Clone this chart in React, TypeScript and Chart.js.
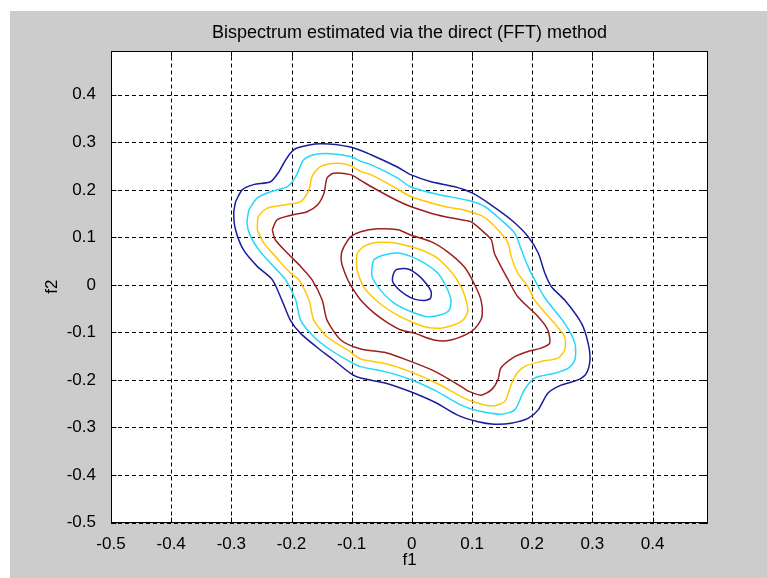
import React, { useEffect, useRef } from 'react';
import { Chart, registerables } from 'chart.js';

Chart.register(...registerables);

const titleText = 'Bispectrum estimated via the direct (FFT) method';
const xLabel = 'f1';
const yLabel = 'f2';

const axisMin = -0.5;
const axisMax = 0.4921875;

const xTickValues = [-0.5, -0.4, -0.3, -0.2, -0.1, 0, 0.1, 0.2, 0.3, 0.4];
const xTickLabels = ['-0.5', '-0.4', '-0.3', '-0.2', '-0.1', '0', '0.1', '0.2', '0.3', '0.4'];
const yTickValues = [-0.5, -0.4, -0.3, -0.2, -0.1, 0, 0.1, 0.2, 0.3, 0.4];
const yTickLabels = ['-0.5', '-0.4', '-0.3', '-0.2', '-0.1', '0', '0.1', '0.2', '0.3', '0.4'];

// contour levels (outer ring, lowest level first)
const outerBlue: [number, number][] = [
  [-0.293, 0.175], [-0.282, 0.2], [-0.263, 0.211], [-0.235, 0.217], [-0.222, 0.236], [-0.213, 0.256],
  [-0.202, 0.277], [-0.191, 0.288], [-0.152, 0.297], [-0.102, 0.29], [-0.068, 0.274], [-0.024, 0.248],
  [-0.002, 0.232], [0.032, 0.217], [0.07, 0.207], [0.101, 0.193], [0.132, 0.168], [0.165, 0.137],
  [0.193, 0.102], [0.21, 0.067], [0.221, 0.025], [0.232, -0.004], [0.254, -0.032], [0.282, -0.081],
  [0.293, -0.123], [0.296, -0.158], [0.29, -0.186], [0.276, -0.2], [0.248, -0.211], [0.226, -0.228],
  [0.21, -0.263], [0.193, -0.281], [0.165, -0.291], [0.137, -0.293], [0.11, -0.288], [0.076, -0.274],
  [0.04, -0.248], [-0.002, -0.225], [-0.043, -0.207], [-0.085, -0.196], [-0.102, -0.186], [-0.13, -0.158],
  [-0.152, -0.137], [-0.185, -0.102], [-0.202, -0.074], [-0.216, -0.032], [-0.232, 0.011], [-0.257, 0.039],
  [-0.28, 0.074], [-0.293, 0.116], [-0.296, 0.151],
];

const outerCyan: [number, number][] = [
  [-0.271, 0.158], [-0.257, 0.183], [-0.235, 0.196], [-0.207, 0.207], [-0.193, 0.228], [-0.18, 0.263],
  [-0.163, 0.274], [-0.135, 0.276], [-0.102, 0.27], [-0.085, 0.26], [-0.068, 0.253], [-0.024, 0.225],
  [-0.002, 0.206], [0.048, 0.189], [0.093, 0.178], [0.121, 0.165], [0.148, 0.137], [0.171, 0.109],
  [0.182, 0.074], [0.193, 0.039], [0.204, 0.011], [0.221, -0.027], [0.254, -0.081], [0.271, -0.123],
  [0.271, -0.158], [0.26, -0.175], [0.237, -0.186], [0.204, -0.196], [0.187, -0.221], [0.171, -0.263],
  [0.148, -0.272], [0.11, -0.265], [0.082, -0.253], [0.04, -0.223], [-0.002, -0.199], [-0.043, -0.183],
  [-0.085, -0.172], [-0.102, -0.162], [-0.135, -0.137], [-0.163, -0.109], [-0.185, -0.074], [-0.193, -0.032],
  [-0.21, 0.011], [-0.227, 0.035], [-0.252, 0.07], [-0.268, 0.102], [-0.274, 0.13],
];

const outerYellow: [number, number][] = [
  [-0.257, 0.116], [-0.255, 0.144], [-0.241, 0.161], [-0.213, 0.168], [-0.185, 0.175], [-0.171, 0.2],
  [-0.166, 0.228], [-0.152, 0.249], [-0.124, 0.256], [-0.102, 0.251], [-0.085, 0.239], [-0.068, 0.232],
  [-0.024, 0.202], [-0.002, 0.186], [0.054, 0.165], [0.082, 0.159], [0.118, 0.144], [0.143, 0.116],
  [0.16, 0.088], [0.165, 0.06], [0.176, 0.025], [0.193, -0.004], [0.204, -0.032], [0.237, -0.081],
  [0.254, -0.109], [0.254, -0.137], [0.243, -0.154], [0.215, -0.161], [0.187, -0.172], [0.171, -0.193],
  [0.162, -0.221], [0.154, -0.246], [0.132, -0.255], [0.098, -0.244], [0.082, -0.235], [0.04, -0.206],
  [-0.002, -0.183], [-0.043, -0.166], [-0.085, -0.156], [-0.107, -0.137], [-0.141, -0.109], [-0.163, -0.074],
  [-0.171, -0.032], [-0.188, 0.011], [-0.202, 0.025], [-0.224, 0.056], [-0.246, 0.088],
];

const outerRed: [number, number][] = [
  [-0.232, 0.116], [-0.224, 0.137], [-0.199, 0.147], [-0.174, 0.154], [-0.157, 0.168], [-0.146, 0.193],
  [-0.141, 0.225], [-0.13, 0.235], [-0.102, 0.232], [-0.085, 0.22], [-0.068, 0.207], [-0.024, 0.177],
  [-0.002, 0.165], [0.043, 0.147], [0.082, 0.137], [0.098, 0.133], [0.115, 0.116], [0.132, 0.095],
  [0.137, 0.067], [0.148, 0.039], [0.16, 0.011], [0.176, -0.025], [0.21, -0.067], [0.226, -0.095],
  [0.229, -0.123], [0.215, -0.133], [0.193, -0.14], [0.171, -0.151], [0.148, -0.175], [0.143, -0.2],
  [0.132, -0.221], [0.115, -0.232], [0.093, -0.223], [0.082, -0.214], [0.04, -0.183], [-0.002, -0.161],
  [-0.043, -0.143], [-0.085, -0.135], [-0.118, -0.116], [-0.141, -0.074], [-0.149, -0.032], [-0.166, 0.011],
  [-0.185, 0.039], [-0.207, 0.067], [-0.227, 0.095],
];

// inner peak contours
const innerRed: [number, number][] = [
  [-0.113, 0.08], [-0.102, 0.101], [-0.085, 0.112], [-0.057, 0.118], [-0.023, 0.116], [-0.002, 0.105],
  [0.032, 0.091], [0.06, 0.069], [0.087, 0.038], [0.103, 0.004], [0.115, -0.032], [0.117, -0.063],
  [0.112, -0.08], [0.098, -0.099], [0.065, -0.116], [0.037, -0.116], [0.003, -0.101], [-0.018, -0.095],
  [-0.04, -0.08], [-0.063, -0.059], [-0.085, -0.032], [-0.102, 0.0], [-0.11, 0.021], [-0.117, 0.048],
  [-0.117, 0.067],
];

const innerYellow: [number, number][] = [
  [-0.091, 0.067], [-0.08, 0.081], [-0.06, 0.089], [-0.035, 0.089], [-0.013, 0.084], [0.015, 0.074],
  [0.043, 0.056], [0.065, 0.028], [0.082, -0.004], [0.09, -0.032], [0.093, -0.056], [0.085, -0.074],
  [0.071, -0.084], [0.048, -0.091], [0.021, -0.088], [-0.002, -0.077], [-0.029, -0.06], [-0.057, -0.035],
  [-0.08, -0.004], [-0.091, 0.032], [-0.092, 0.053],
];

const innerCyan: [number, number][] = [
  [-0.066, 0.039], [-0.063, 0.053], [-0.046, 0.063], [-0.024, 0.067], [-0.002, 0.06], [0.021, 0.046],
  [0.043, 0.025], [0.057, -0.004], [0.065, -0.032], [0.062, -0.053], [0.048, -0.063], [0.026, -0.067],
  [-0.002, -0.056], [-0.029, -0.039], [-0.052, -0.011], [-0.066, 0.017],
];

const innerBlue: [number, number][] = [
  [-0.032, 0.017], [-0.029, 0.028], [-0.024, 0.033], [-0.005, 0.033], [0.01, 0.021], [0.023, 0.004],
  [0.032, -0.014], [0.031, -0.028], [0.021, -0.033], [0.004, -0.03], [-0.01, -0.021], [-0.024, -0.007],
  [-0.032, 0.007],
];

const BLUE = '#1c1c9c';
const CYAN = '#22d8f8';
const YELLOW = '#ffc800';
const RED = '#9c2020';

const contours: { pts: [number, number][]; color: string }[] = [
  { pts: outerBlue, color: BLUE },
  { pts: outerCyan, color: CYAN },
  { pts: outerYellow, color: YELLOW },
  { pts: outerRed, color: RED },
  { pts: innerRed, color: RED },
  { pts: innerYellow, color: YELLOW },
  { pts: innerCyan, color: CYAN },
  { pts: innerBlue, color: BLUE },
];

const FONT = "'Liberation Sans', Arial, Helvetica, sans-serif";

const matlabAxes = {
  id: 'matlabAxes',
  beforeDraw(chart: any) {
    const { ctx, chartArea: a } = chart;
    ctx.save();
    ctx.fillStyle = '#ffffff';
    ctx.fillRect(a.left, a.top, a.right - a.left, a.bottom - a.top);
    ctx.restore();
  },
  beforeDatasetsDraw(chart: any) {
    const { ctx, chartArea: a, scales } = chart;
    const xs = scales.x;
    const ys = scales.y;
    ctx.save();
    ctx.strokeStyle = '#000';
    ctx.lineWidth = 1;
    ctx.setLineDash([4, 3]);
    xTickValues.forEach((v) => {
      const p = Math.round(xs.getPixelForValue(v)) + 0.5;
      ctx.beginPath();
      ctx.moveTo(p, a.bottom);
      ctx.lineTo(p, a.top);
      ctx.stroke();
    });
    yTickValues.forEach((v) => {
      const p = Math.round(ys.getPixelForValue(v)) + 0.5;
      ctx.beginPath();
      ctx.moveTo(a.left, p);
      ctx.lineTo(a.right, p);
      ctx.stroke();
    });
    ctx.restore();
  },
  afterDatasetsDraw(chart: any) {
    const { ctx, chartArea: a, scales } = chart;
    const xs = scales.x;
    const ys = scales.y;
    const L = Math.round(a.left) + 0.5;
    const R = Math.round(a.right) - 0.5;
    const T = Math.round(a.top) + 0.5;
    const B = Math.round(a.bottom) - 0.5;
    const tl = 5;
    ctx.save();
    ctx.strokeStyle = '#000';
    ctx.lineWidth = 1;
    ctx.setLineDash([]);
    ctx.strokeRect(L, T, R - L, B - T);
    ctx.beginPath();
    xTickValues.forEach((v) => {
      const p = Math.round(xs.getPixelForValue(v)) + 0.5;
      ctx.moveTo(p, B);
      ctx.lineTo(p, B - tl);
      ctx.moveTo(p, T);
      ctx.lineTo(p, T + tl);
    });
    yTickValues.forEach((v) => {
      const p = Math.round(ys.getPixelForValue(v)) + 0.5;
      ctx.moveTo(L, p);
      ctx.lineTo(L + tl, p);
      ctx.moveTo(R, p);
      ctx.lineTo(R - tl, p);
    });
    ctx.stroke();
    ctx.restore();
  },
};

export default function App() {
  const canvasRef = useRef<HTMLCanvasElement | null>(null);

  useEffect(() => {
    if (!canvasRef.current) return;
    const datasets = contours.map((c) => {
      const data = c.pts.map(([x, y]) => ({ x, y }));
      data.push({ x: c.pts[0][0], y: c.pts[0][1] });
      return {
        data,
        showLine: true,
        fill: false,
        borderColor: c.color,
        backgroundColor: c.color,
        borderWidth: 1.5,
        pointRadius: 0,
        pointHoverRadius: 0,
        tension: 0.25,
      };
    });

    const chart = new Chart(canvasRef.current, {
      type: 'scatter',
      data: { datasets },
      plugins: [matlabAxes],
      options: {
        animation: false,
        responsive: false,
        devicePixelRatio: 1,
        events: [],
        layout: { padding: { left: 0, right: 59, top: 0, bottom: 0 } },
        plugins: {
          legend: { display: false },
          tooltip: { enabled: false },
          title: {
            display: true,
            text: titleText,
            fullSize: false,
            color: '#000',
            font: { family: FONT, size: 18, weight: 'normal', lineHeight: 1.2 },
            padding: { top: 22.2, bottom: 7.2 },
          },
        },
        scales: {
          x: {
            type: 'linear',
            position: 'bottom',
            min: axisMin,
            max: axisMax,
            afterBuildTicks: (s: any) => {
              s.ticks = xTickValues.map((v) => ({ value: v }));
            },
            afterFit: (s: any) => {
              s.height = 55.5;
            },
            grid: { display: false },
            border: { display: false },
            ticks: {
              autoSkip: false,
              maxRotation: 0,
              padding: 4,
              color: '#000',
              font: { family: FONT, size: 17, lineHeight: 1.2 },
              callback: (_v: any, i: number) => xTickLabels[i],
            },
            title: {
              display: true,
              text: xLabel,
              color: '#000',
              font: { family: FONT, size: 17, lineHeight: 1.2 },
              padding: { top: 0, bottom: 7.8 },
            },
          },
          y: {
            type: 'linear',
            position: 'left',
            min: axisMin,
            max: axisMax,
            afterBuildTicks: (s: any) => {
              s.ticks = yTickValues.map((v) => ({ value: v }));
            },
            afterFit: (s: any) => {
              s.width = 111;
            },
            grid: { display: false },
            border: { display: false },
            ticks: {
              autoSkip: false,
              padding: 7,
              color: '#000',
              font: { family: FONT, size: 17, lineHeight: 1.2 },
              callback: (_v: any, i: number) => yTickLabels[i],
            },
            title: {
              display: true,
              text: yLabel,
              color: '#000',
              font: { family: FONT, size: 17, lineHeight: 1.2 },
              padding: { top: 42.3, bottom: 0 },
            },
          },
        },
      } as any,
    });
    return () => chart.destroy();
  }, []);

  return (
    <div style={{ position: 'fixed', left: 0, top: 0, width: 767, height: 578, background: '#ffffff', overflow: 'hidden' }}>
      <div style={{ position: 'absolute', left: 10, top: 11, right: 0, bottom: 0, background: '#cccccc' }} />
      <canvas
        ref={canvasRef}
        width={767}
        height={578}
        style={{ position: 'absolute', left: 0, top: 0, width: 767, height: 578 }}
      />
    </div>
  );
}
